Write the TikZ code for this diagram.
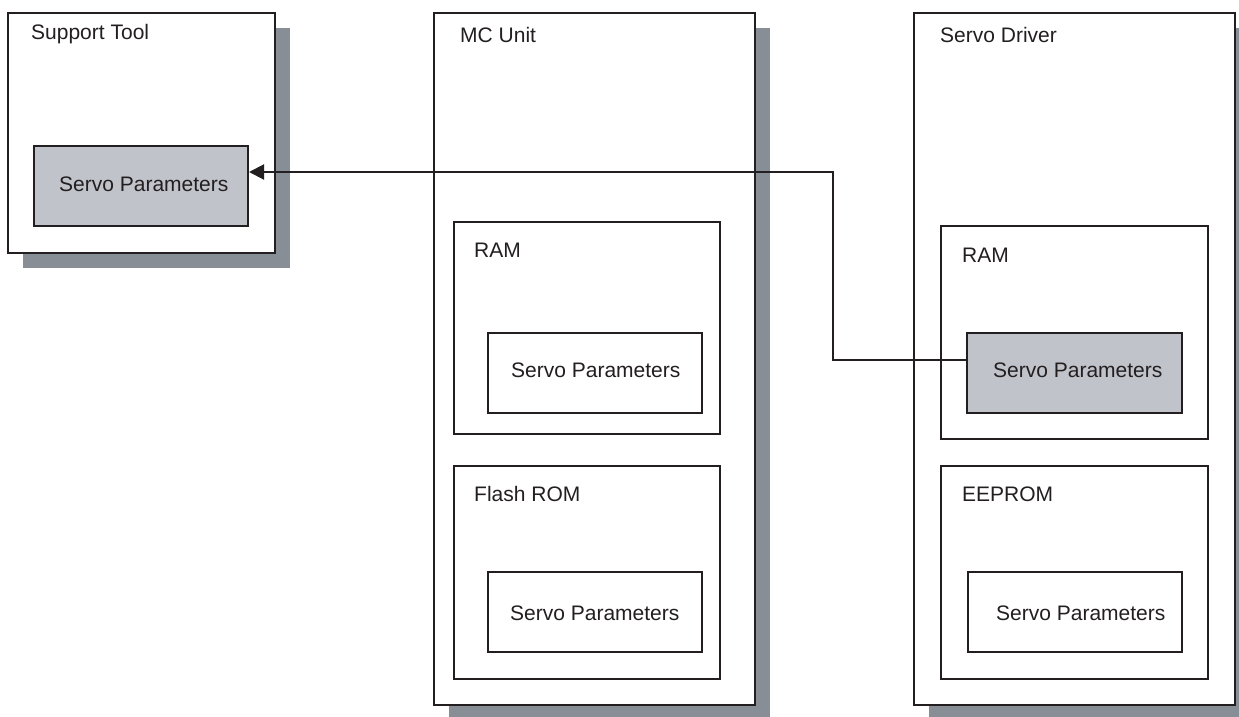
\documentclass[tikz,border=0pt]{standalone}
\usepackage{fontspec}
\setmainfont{Liberation Sans}
\usetikzlibrary{arrows.meta}
\definecolor{ink}{HTML}{231F20}
\definecolor{spgray}{HTML}{C1C3CA}
\definecolor{shadowgray}{HTML}{878E95}
\begin{document}
\begin{tikzpicture}[x=1pt,y=-1pt,
  box/.style={draw=ink,line width=2pt,fill=white,rectangle,inner sep=0pt,anchor=north west},
  spbox/.style={box,minimum width=214pt,minimum height=80pt},
  graybox/.style={spbox,fill=spgray},
  shadowbox/.style={fill=shadowgray,draw=none,rectangle,inner sep=0pt,anchor=north west},
  lbl/.style={anchor=base west,inner sep=0pt,text=ink,font=\fontsize{21}{25}\selectfont},
  conn/.style={draw=ink,line width=2pt,-{Triangle[length=15pt,width=15pt]}}]
\useasboundingbox (0,0) rectangle (1239,717);
\clip (0,0) rectangle (1239,717);
% shadows
\node[shadowbox,minimum width=267pt,minimum height=240pt] (stsh) at (23,28) {};
\node[shadowbox,minimum width=321pt,minimum height=692pt] (mcsh) at (449,28) {};
\node[shadowbox,minimum width=321pt,minimum height=692pt] (sdsh) at (929,28) {};
% Support Tool
\node[box,minimum width=267pt,minimum height=240pt] (st) at (7,12) {};
\node[lbl] (stl) at (31,40) {Support Tool};
\node[graybox] (stsp) at (33,145) {};
\node[lbl] (stspl) at (59,191) {Servo Parameters};
% MC Unit
\node[box,minimum width=321pt,minimum height=692pt] (mc) at (433,12) {};
\node[lbl] (mcl) at (460,43) {MC Unit};
\node[box,minimum width=266pt,minimum height=212pt] (mcram) at (453,221) {};
\node[lbl] (mcraml) at (474,257) {RAM};
\node[spbox] (mcramsp) at (487,332) {};
\node[lbl] (mcramspl) at (511,377) {Servo Parameters};
\node[box,minimum width=266pt,minimum height=213pt] (mcfl) at (453,465) {};
\node[lbl] (mcfll) at (474,501) {Flash ROM};
\node[spbox] (mcflsp) at (487,571) {};
\node[lbl] (mcflspl) at (510,620) {Servo Parameters};
% Servo Driver
\node[box,minimum width=321pt,minimum height=692pt] (sd) at (913,12) {};
\node[lbl] (sdl) at (940,43) {Servo Driver};
\node[box,minimum width=267pt,minimum height=213pt] (sdram) at (940,225) {};
\node[lbl] (sdraml) at (962,262) {RAM};
\node[graybox,minimum width=215pt] (sdsp) at (966,332) {};
\node[lbl] (sdspl) at (993,377) {Servo Parameters};
\node[box,minimum width=267pt,minimum height=213pt] (sdee) at (940,465) {};
\node[lbl] (sdeel) at (962,501) {EEPROM};
\node[spbox] (sdeesp) at (967,571) {};
\node[lbl] (sdeespl) at (996,620) {Servo Parameters};
% connector
\coordinate (bend) at (833,172);
\draw[conn] ([yshift=13pt]sdsp.west) -| (bend) -- (bend -| stsp.east);
\end{tikzpicture}
\end{document}
